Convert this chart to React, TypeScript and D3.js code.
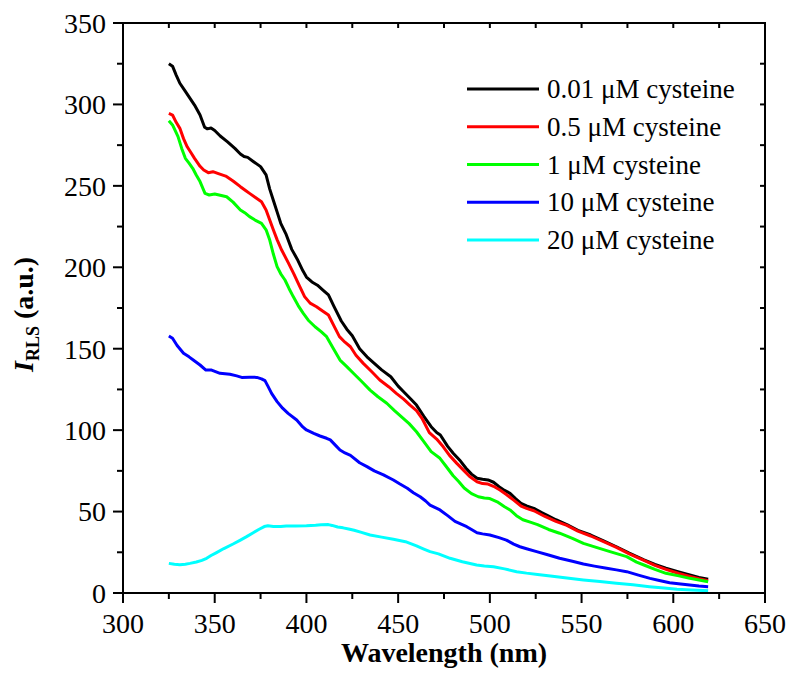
import React from 'react';
import * as d3 from 'd3';

const seriesLabels = ['0.01 μM cysteine', '0.5 μM cysteine', '1 μM cysteine', '10 μM cysteine', '20 μM cysteine'];
const seriesColors = ['#000000', '#ff0000', '#00ff00', '#0000ff', '#00ffff'];

const xMajorTicks = [300, 350, 400, 450, 500, 550, 600, 650];
const yMajorTicks = [0, 50, 100, 150, 200, 250, 300, 350];

const cys001: [number, number][] = [
  [325, 325], [327, 323.5], [329, 318], [331, 313], [334, 308], [337, 303], [339, 299.6], [342, 293.5],
  [344.5, 286], [346, 285], [348, 285.5], [350, 284], [353, 280.6], [357, 277], [361, 273], [364, 269.6],
  [366, 268], [368, 267.5], [371, 265], [375, 261.8], [378, 256.7], [380, 248], [382, 241], [384, 234],
  [386, 227], [389, 220], [392, 211], [395, 205], [398, 198], [400, 194], [403, 191], [406, 189], [409, 186],
  [412, 183], [415, 176], [419, 167], [422, 162], [425, 158], [429, 150], [433, 145], [437, 141], [441, 137],
  [446, 132.8], [450, 127], [453, 123.6], [457, 119], [460, 115.4], [464, 108.5], [468, 102.1], [471, 98.5],
  [473, 97], [477, 90], [480, 85.8], [484, 81], [487, 76.6], [490, 73], [493, 70.5], [496, 69.8], [499, 69.4],
  [502, 68], [505, 65.3], [508, 63], [511, 61.2], [514, 58], [517, 55.1], [520, 53.5], [524, 52], [528, 49.5],
  [531, 47.9], [536, 45], [542, 42], [548, 38.5], [555, 35.6], [562, 32], [569, 28.4], [576, 24.5], [584, 20.3],
  [590, 17.5], [596, 15.2], [603, 13], [609, 11.1], [614, 9.6], [619, 8.4],
];

const cys05: [number, number][] = [
  [325, 294.5], [327, 293.5], [329, 289], [331, 285.3], [333, 279], [335, 274], [337, 270.5], [339, 266.9],
  [342, 262], [344, 259.7], [346.5, 258.1], [349, 258.7], [352, 257.5], [356, 256], [360, 253], [364, 249.5],
  [367, 247], [369, 245.4], [372, 243], [375.5, 240.3], [378, 235.2], [380, 229], [382, 222.9], [384, 217],
  [386.5, 210.6], [390, 203], [393, 196.3], [396, 189], [399, 182], [402, 178], [405.5, 175.8], [409, 173],
  [412, 170.7], [415, 164], [418, 157.4], [421, 154], [424, 151.2], [427, 146], [431, 141], [435.5, 136],
  [440, 130.8], [445, 126.5], [449, 122.6], [453, 119], [456.5, 115.4], [460, 112], [463, 107.3], [467, 98.5],
  [471, 94.5], [474.6, 89.8], [478, 84.5], [482, 79.6], [486, 75], [489, 71.5], [493, 68.3], [496, 67.2],
  [499, 66.9], [502, 65.5], [505.5, 63.2], [509, 60.5], [513, 57], [517, 53.4], [520, 52], [524, 50.5],
  [530, 47], [536, 44], [542, 41.5], [548, 38], [555, 35], [562, 31.5], [569, 28], [576, 24], [584, 20],
  [590, 17], [596, 14.5], [603, 12], [609, 10.2], [614, 8.8], [619, 7.6],
];

const cys1: [number, number][] = [
  [325, 290], [327, 287.4], [330, 280.2], [332, 273], [334, 266.9], [336, 264], [338, 260.8], [340, 256.5],
  [342, 252.6], [344.7, 245.4], [347, 244.4], [350, 245], [353, 244.2], [356.5, 243.3], [360, 240], [364, 235.2],
  [367, 233], [369, 231.1], [372, 229], [375.5, 227], [378, 223], [380, 216.7], [382, 208], [384, 200.4],
  [386, 196], [388.3, 192.2], [390.5, 187], [392.8, 182], [395.5, 176.5], [398.3, 171.7], [401, 167.5],
  [404.7, 163.5], [408, 160.5], [411, 157.4], [414.5, 150.5], [418.3, 143], [422, 139], [425.6, 134.9],
  [430, 130], [434.7, 124.6], [439, 120.5], [443.8, 116.5], [448, 112], [452, 108], [456, 104], [460, 99],
  [464, 93], [468, 86.8], [472.8, 82.7], [476, 78], [480, 72], [483, 68.5], [486, 64.5], [490, 61],
  [493.7, 59.1], [497, 58.3], [500, 58], [504, 56], [508, 53], [511, 51], [514.5, 47.5], [518, 45],
  [522, 43.5], [526, 42], [532, 39], [538, 36.7], [545, 33.5], [551, 30.5], [558, 28], [565.5, 25.4],
  [574.6, 22.3], [580, 19], [584, 17.2], [590, 14.5], [596, 12.1], [603, 10.5], [609, 9], [614, 8], [619, 6.9],
];

const cys10: [number, number][] = [
  [325, 157.8], [327, 156.4], [329.5, 152], [333, 147.2], [336, 145], [338.3, 143.1], [342, 140],
  [345.2, 136.9], [348.3, 136.9], [352.9, 134.9], [358.3, 134.3], [362, 133.3], [364.7, 132.4], [369, 132.5],
  [373, 132.4], [375.5, 131.5], [377.4, 130.4], [379, 127], [381, 122.6], [384, 117.5], [387, 113.5],
  [390, 110.3], [394.7, 106.2], [398, 102], [400, 100.1], [404, 98], [407.4, 96.4], [411, 95], [413, 94],
  [416, 90.5], [418.3, 87.8], [421, 86], [424, 84.5], [429, 80], [433, 77.6], [437, 75], [442, 72.5],
  [447.4, 69.4], [451, 66.9], [455, 64.3], [458.3, 61.6], [462, 59.1], [465, 56.5], [467.4, 54], [472.8, 51],
  [477, 47.5], [481, 44], [487.4, 40.7], [490, 39], [493, 37], [496, 36.3], [500, 35.6], [505, 34],
  [509, 32.5], [513, 30], [516.4, 28.4], [520, 27.2], [525.5, 25.4], [532, 23.3], [538, 21.3], [545, 19.5],
  [551, 17.8], [557, 16.5], [563.7, 15.2], [569, 14.2], [574.6, 13.1], [581, 11], [587.3, 9], [593, 7.5],
  [598, 6.3], [604, 5.5], [609, 4.9], [614, 4.3], [619, 3.9],
];

const cys20: [number, number][] = [
  [325, 18.2], [328, 17.6], [331, 17.4], [334, 17.7], [336.5, 18.2], [340, 19], [343, 20], [345.6, 21.3],
  [348, 23], [351, 24.8], [355, 27.3], [360, 30.1], [364, 32.5], [367.4, 34.6], [371, 37], [374, 39],
  [377, 40.8], [379, 41.3], [382, 40.9], [386, 40.8], [389, 41.1], [394, 41.2], [400, 41.3], [405, 41.6],
  [408, 41.9], [412, 42], [414, 41.5], [417, 40.5], [420, 40], [423, 39.3], [426, 38.5], [430, 37.2],
  [434.7, 35.6], [441, 34.3], [447.4, 33], [454, 31.5], [460, 28.9], [464, 27], [467.4, 25.4], [472, 24],
  [478.3, 21.3], [485, 19.2], [492.8, 17.2], [497, 16.6], [502, 16.1], [508, 14.8], [514.6, 13.1], [520, 12.2],
  [526, 11.4], [533, 10.4], [542, 9.2], [551, 8], [560, 7], [569, 6], [578, 5], [587, 3.9], [595, 3],
  [602, 2.3], [610, 1.8], [619, 1.4],
];

const seriesData = [cys001, cys05, cys1, cys10, cys20];

export default function App() {
  const W = 791, H = 676;
  const left = 123, right = 765, top = 23, bottom = 593;
  const x = d3.scaleLinear().domain([300, 650]).range([left, right]);
  const y = d3.scaleLinear().domain([0, 350]).range([bottom, top]);
  const line = d3.line<[number, number]>().x(d => x(d[0])).y(d => y(d[1]));
  const xMinor = d3.range(325, 650, 50);
  const yMinor = d3.range(25, 350, 50);
  const font = '"Liberation Serif", "Times New Roman", serif';
  const legendX = 467, legendY0 = 89, legendDy = 37.75;

  return (
    <svg width={W} height={H} style={{ position: 'absolute', left: 0, top: 0, background: '#fff' }}
      fontFamily={font}>
      <rect x={0} y={0} width={W} height={H} fill="#fff" />
      {seriesData.map((d, i) => (
        <path key={i} d={line(d) || ''} fill="none" stroke={seriesColors[i]} strokeWidth={3}
          strokeLinejoin="round" strokeLinecap="butt" />
      ))}
      {/* frame */}
      <rect x={left} y={top} width={right - left} height={bottom - top} fill="none" stroke="#000" strokeWidth={2} />
      {/* bottom ticks */}
      {xMajorTicks.map(t => (
        <g key={'xb' + t}>
          <line x1={x(t)} x2={x(t)} y1={bottom} y2={bottom + 10} stroke="#000" strokeWidth={2} />
          <line x1={x(t)} x2={x(t)} y1={top} y2={top + 5} stroke="#000" strokeWidth={2} />
          <text x={x(t)} y={633} textAnchor="middle" fontSize={28}>{t}</text>
        </g>
      ))}
      {xMinor.map(t => (
        <g key={'xm' + t}>
          <line x1={x(t)} x2={x(t)} y1={bottom} y2={bottom + 6} stroke="#000" strokeWidth={2} />
          <line x1={x(t)} x2={x(t)} y1={top} y2={top + 5} stroke="#000" strokeWidth={2} />
        </g>
      ))}
      {yMajorTicks.map(t => (
        <g key={'yl' + t}>
          <line x1={left - 10} x2={left} y1={y(t)} y2={y(t)} stroke="#000" strokeWidth={2} />
          <line x1={right - 5} x2={right} y1={y(t)} y2={y(t)} stroke="#000" strokeWidth={2} />
          <text x={106} y={y(t)} dy="0.35em" textAnchor="end" fontSize={28}>{t}</text>
        </g>
      ))}
      {yMinor.map(t => (
        <g key={'ym' + t}>
          <line x1={left - 6} x2={left} y1={y(t)} y2={y(t)} stroke="#000" strokeWidth={2} />
          <line x1={right - 5} x2={right} y1={y(t)} y2={y(t)} stroke="#000" strokeWidth={2} />
        </g>
      ))}
      {/* axis titles */}
      <text x={(left + right) / 2} y={662} textAnchor="middle" fontSize={28} fontWeight="bold">Wavelength (nm)</text>
      <text transform="translate(33,372) rotate(-90)" textAnchor="start" fontSize={28} fontWeight="bold">
        <tspan fontStyle="italic">I</tspan>
        <tspan fontSize={18} dy={6}>RLS</tspan>
        <tspan dy={-6}> (a.u.)</tspan>
      </text>
      {/* legend */}
      {seriesLabels.map((lab, i) => (
        <g key={'lg' + i}>
          <line x1={legendX} x2={legendX + 72} y1={legendY0 + i * legendDy} y2={legendY0 + i * legendDy}
            stroke={seriesColors[i]} strokeWidth={3} />
          <text x={547} y={legendY0 + i * legendDy + 9} fontSize={27}>{lab}</text>
        </g>
      ))}
    </svg>
  );
}
